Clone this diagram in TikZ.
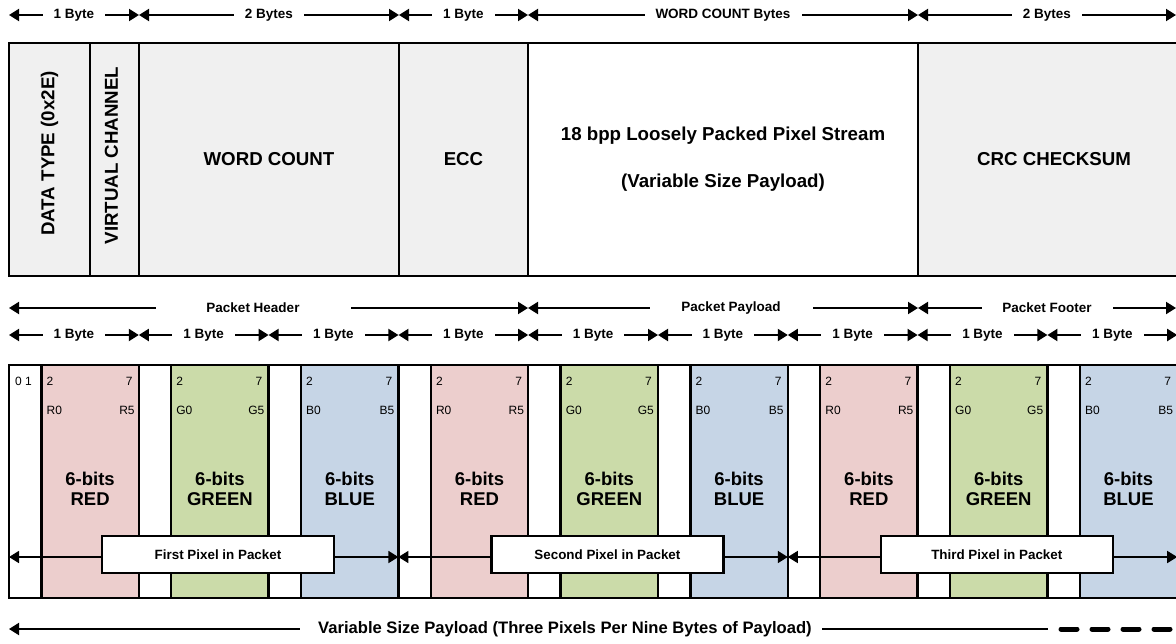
\documentclass[tikz,border=0pt]{standalone}
\usepackage{fontspec}
\setmainfont{Liberation Sans}
\usetikzlibrary{arrows.meta}
\definecolor{hdrgrey}{RGB}{240,240,240}
\definecolor{redbits}{RGB}{236,206,205}
\definecolor{greenbits}{RGB}{203,219,169}
\definecolor{bluebits}{RGB}{198,213,230}

\begin{document}
\begin{tikzpicture}[x=1pt,y=-1pt,
  field/.style={draw,line width=2.4pt,fill=hdrgrey,anchor=north west,
    minimum height=233pt,inner sep=0pt,outer sep=0pt,align=center,
    font=\fontsize{18.7}{47}\selectfont\bfseries},
  bitcell/.style={draw,line width=2.4pt,fill=white,anchor=north west,
    minimum height=233pt,inner sep=0pt,outer sep=0pt},
  bitnum/.style={inner sep=0pt,font=\fontsize{12}{14}\selectfont},
  colname/.style={align=center,font=\fontsize{18.5}{20}\selectfont\bfseries},
  sizearrow/.style={line width=2pt,
    {Triangle[length=10pt,width=12pt]}-{Triangle[length=10pt,width=12pt]}},
  gaplbl/.style={fill=white,inner xsep=11pt,inner ysep=1pt,
    font=\fontsize{13.5}{16}\selectfont\bfseries},
  pxlbl/.style={draw,line width=2.2pt,fill=white,minimum width=232pt,
    minimum height=37pt,font=\fontsize{13.4}{16}\selectfont\bfseries}]
  \useasboundingbox (0,0) rectangle (1176,643);
  % (a) packet fields with byte counts
  \coordinate (t0) at (9,15);
  \coordinate (t1) at (139,15);
  \coordinate (t2) at (399,15);
  \coordinate (t3) at (528,15);
  \coordinate (t4) at (918,15);
  \coordinate (t5) at (1176,15);
  \draw[sizearrow] (t0) -- node[gaplbl] (tl1) {1 Byte} (t1);
  \draw[sizearrow] (t1) -- node[gaplbl] (tl2) {2 Bytes} (t2);
  \draw[sizearrow] (t2) -- node[gaplbl] (tl3) {1 Byte} (t3);
  \draw[sizearrow] (t3) -- node[gaplbl] (tl4) {WORD COUNT Bytes} (t4);
  \draw[sizearrow] (t4) -- node[gaplbl] (tl5) {2 Bytes} (t5);
  \node[field,minimum width=81pt] (dt) at (9,43) {};
  \node[field,minimum width=49pt] (vc) at (90,43) {};
  \node[field,minimum width=260pt] (wc) at (139,43) {WORD COUNT};
  \node[field,minimum width=129pt] (ecc) at (399,43) {ECC};
  \node[field,fill=white,minimum width=390pt] (pay) at (528,43)
    {18 bpp Loosely Packed Pixel Stream\\(Variable Size Payload)};
  \node[field,minimum width=272pt] (crc) at (918,43) {CRC CHECKSUM};
  \node[rotate=90,font=\fontsize{18.7}{22}\selectfont\bfseries] (dtl)
    at ([yshift=6pt]dt.center) {DATA TYPE (0x2E)};
  \node[rotate=90,font=\fontsize{18.7}{22}\selectfont\bfseries] (vcl)
    at ([xshift=-3pt,yshift=4pt]vc.center) {VIRTUAL CHANNEL};
  % (b) header / payload / footer split
  \coordinate (h0) at (9,308);
  \coordinate (h1) at (528,308);
  \coordinate (h2) at (918,308);
  \coordinate (h3) at (1176,308);
  \draw[sizearrow] (h0) -- (h1);
  \draw[sizearrow] (h1) -- (h2);
  \draw[sizearrow] (h2) -- (h3);
  \node[gaplbl,minimum width=195pt] (hdr) at (253,308) {Packet Header};
  \node[gaplbl,minimum width=163pt] (pld) at (731,308) {Packet Payload};
  \node[gaplbl,minimum width=131pt] (ftr) at (1047,308) {Packet Footer};
  \foreach \i in {0,...,8}{
    \coordinate (ba\i) at (9+129.8*\i,335);
    \coordinate (bb\i) at (138.8+129.8*\i,335);
    \draw[sizearrow] (ba\i) -- node[gaplbl] (bl\i) {1 Byte} (bb\i);
  }
  % (c) nine bytes, three RGB666 pixels
  \foreach \p in {0,1,2}{
    \foreach \k/\col/\cname/\ch in {0/redbits/RED/R,1/greenbits/GREEN/G,2/bluebits/BLUE/B}{
      \pgfmathsetmacro{\xb}{9+129.8*(3*\p+\k)}
      \node[bitcell,minimum width=32.4pt] (lo\p\k) at (\xb,365) {};
      \node[bitcell,fill=\col,minimum width=97.4pt] (hi\p\k) at (\xb+32.4,365) {};
      \node[bitnum,anchor=west] (two\p\k) at ([xshift=5pt,yshift=-16pt]hi\p\k.north west) {2};
      \node[bitnum,anchor=east] (sev\p\k) at ([xshift=-6pt,yshift=-16pt]hi\p\k.north east) {7};
      \node[bitnum,anchor=west] (lsb\p\k) at ([xshift=5pt,yshift=-45pt]hi\p\k.north west) {\ch0};
      \node[bitnum,anchor=east] (msb\p\k) at ([xshift=-4pt,yshift=-45pt]hi\p\k.north east) {\ch5};
      \node[colname] (nm\p\k) at ([yshift=-7pt]hi\p\k.center) {6-bits\\\cname};
    }
  }
  \node[bitnum,anchor=west] (pad) at ([xshift=6pt,yshift=-16pt]lo00.north west) {0 1};
  \foreach \p/\pxname in {0/First,1/Second,2/Third}{
    \coordinate (pa\p) at (9+389.4*\p,557);
    \coordinate (pb\p) at (398.4+389.4*\p,557);
    \draw[sizearrow,line width=1.6pt] (pa\p) -- (pb\p);
    \node[pxlbl] (px\p) at (218+389.4*\p,554.5) {\pxname\ Pixel in Packet};
  }
  % (d) payload length, open ended
  \coordinate (v0) at (9,629);
  \coordinate (v1) at (300,629);
  \coordinate (v2) at (822,629);
  \coordinate (v3) at (1048,629);
  \coordinate (v4) at (1061,629);
  \coordinate (v5) at (1192,629);
  \draw[line width=2pt,{Triangle[length=10pt,width=12pt]}-] (v0) -- (v1);
  \node[font=\fontsize{16.6}{20}\selectfont\bfseries] (vsp) at (565,629)
    {Variable Size Payload (Three Pixels Per Nine Bytes of Payload)};
  \draw[line width=2pt] (v2) -- (v3);
  \draw[line width=5pt,line cap=round,dash pattern=on 16pt off 15pt] (v4) -- (v5);
\end{tikzpicture}
\end{document}
